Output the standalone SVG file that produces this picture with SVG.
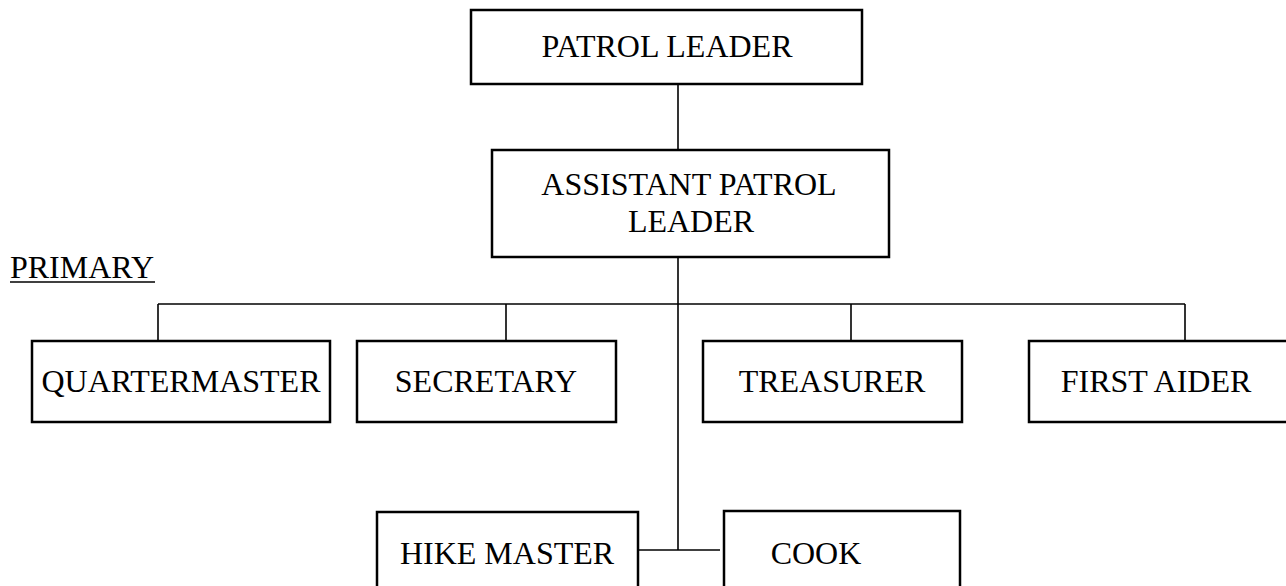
<svg xmlns="http://www.w3.org/2000/svg" width="1286" height="586" viewBox="0 0 1286 586">
<style>
.box{fill:#fff;stroke:#000;stroke-width:2.5}
.ln{fill:none;stroke:#000;stroke-width:1.6}
text{font-family:"Liberation Serif","Times New Roman",serif;font-size:32px;fill:#000;text-anchor:middle}
</style>
<rect width="1286" height="586" fill="#fff"/>
<g id="connectors">
<line class="ln" x1="678" y1="84" x2="678" y2="150"/>
<line class="ln" x1="678" y1="257" x2="678" y2="550"/>
<line class="ln" x1="158" y1="304" x2="1185" y2="304"/>
<line class="ln" x1="158" y1="304" x2="158" y2="341"/>
<line class="ln" x1="506" y1="304" x2="506" y2="341"/>
<line class="ln" x1="851" y1="304" x2="851" y2="341"/>
<line class="ln" x1="1185" y1="304" x2="1185" y2="341"/>
<line class="ln" x1="638" y1="550" x2="720" y2="550"/>
</g>
<g id="primary-label">
<text x="82" y="278">PRIMARY</text>
<line x1="10" y1="282" x2="155" y2="282" stroke="#000" stroke-width="1.6"/>
</g>
<g id="patrol-leader">
<rect class="box" x="471" y="10" width="391" height="74"/>
<text x="667" y="57">PATROL LEADER</text>
</g>
<g id="assistant-patrol-leader">
<rect class="box" x="492" y="150" width="397" height="107"/>
<text x="689" y="195">ASSISTANT PATROL</text>
<text x="691" y="232">LEADER</text>
</g>
<g id="quartermaster">
<rect class="box" x="32" y="341" width="298" height="81"/>
<text x="181" y="392">QUARTERMASTER</text>
</g>
<g id="secretary">
<rect class="box" x="357" y="341" width="259" height="81"/>
<text x="486" y="392">SECRETARY</text>
</g>
<g id="treasurer">
<rect class="box" x="703" y="341" width="259" height="81"/>
<text x="832" y="392">TREASURER</text>
</g>
<g id="first-aider">
<rect class="box" x="1029" y="341" width="270" height="81"/>
<text x="1156" y="392">FIRST AIDER</text>
</g>
<g id="hike-master">
<rect class="box" x="377" y="512" width="261" height="90"/>
<text x="507" y="564">HIKE MASTER</text>
</g>
<g id="cook">
<rect class="box" x="724" y="511" width="236" height="90"/>
<text x="816" y="564">COOK</text>
</g>
</svg>
